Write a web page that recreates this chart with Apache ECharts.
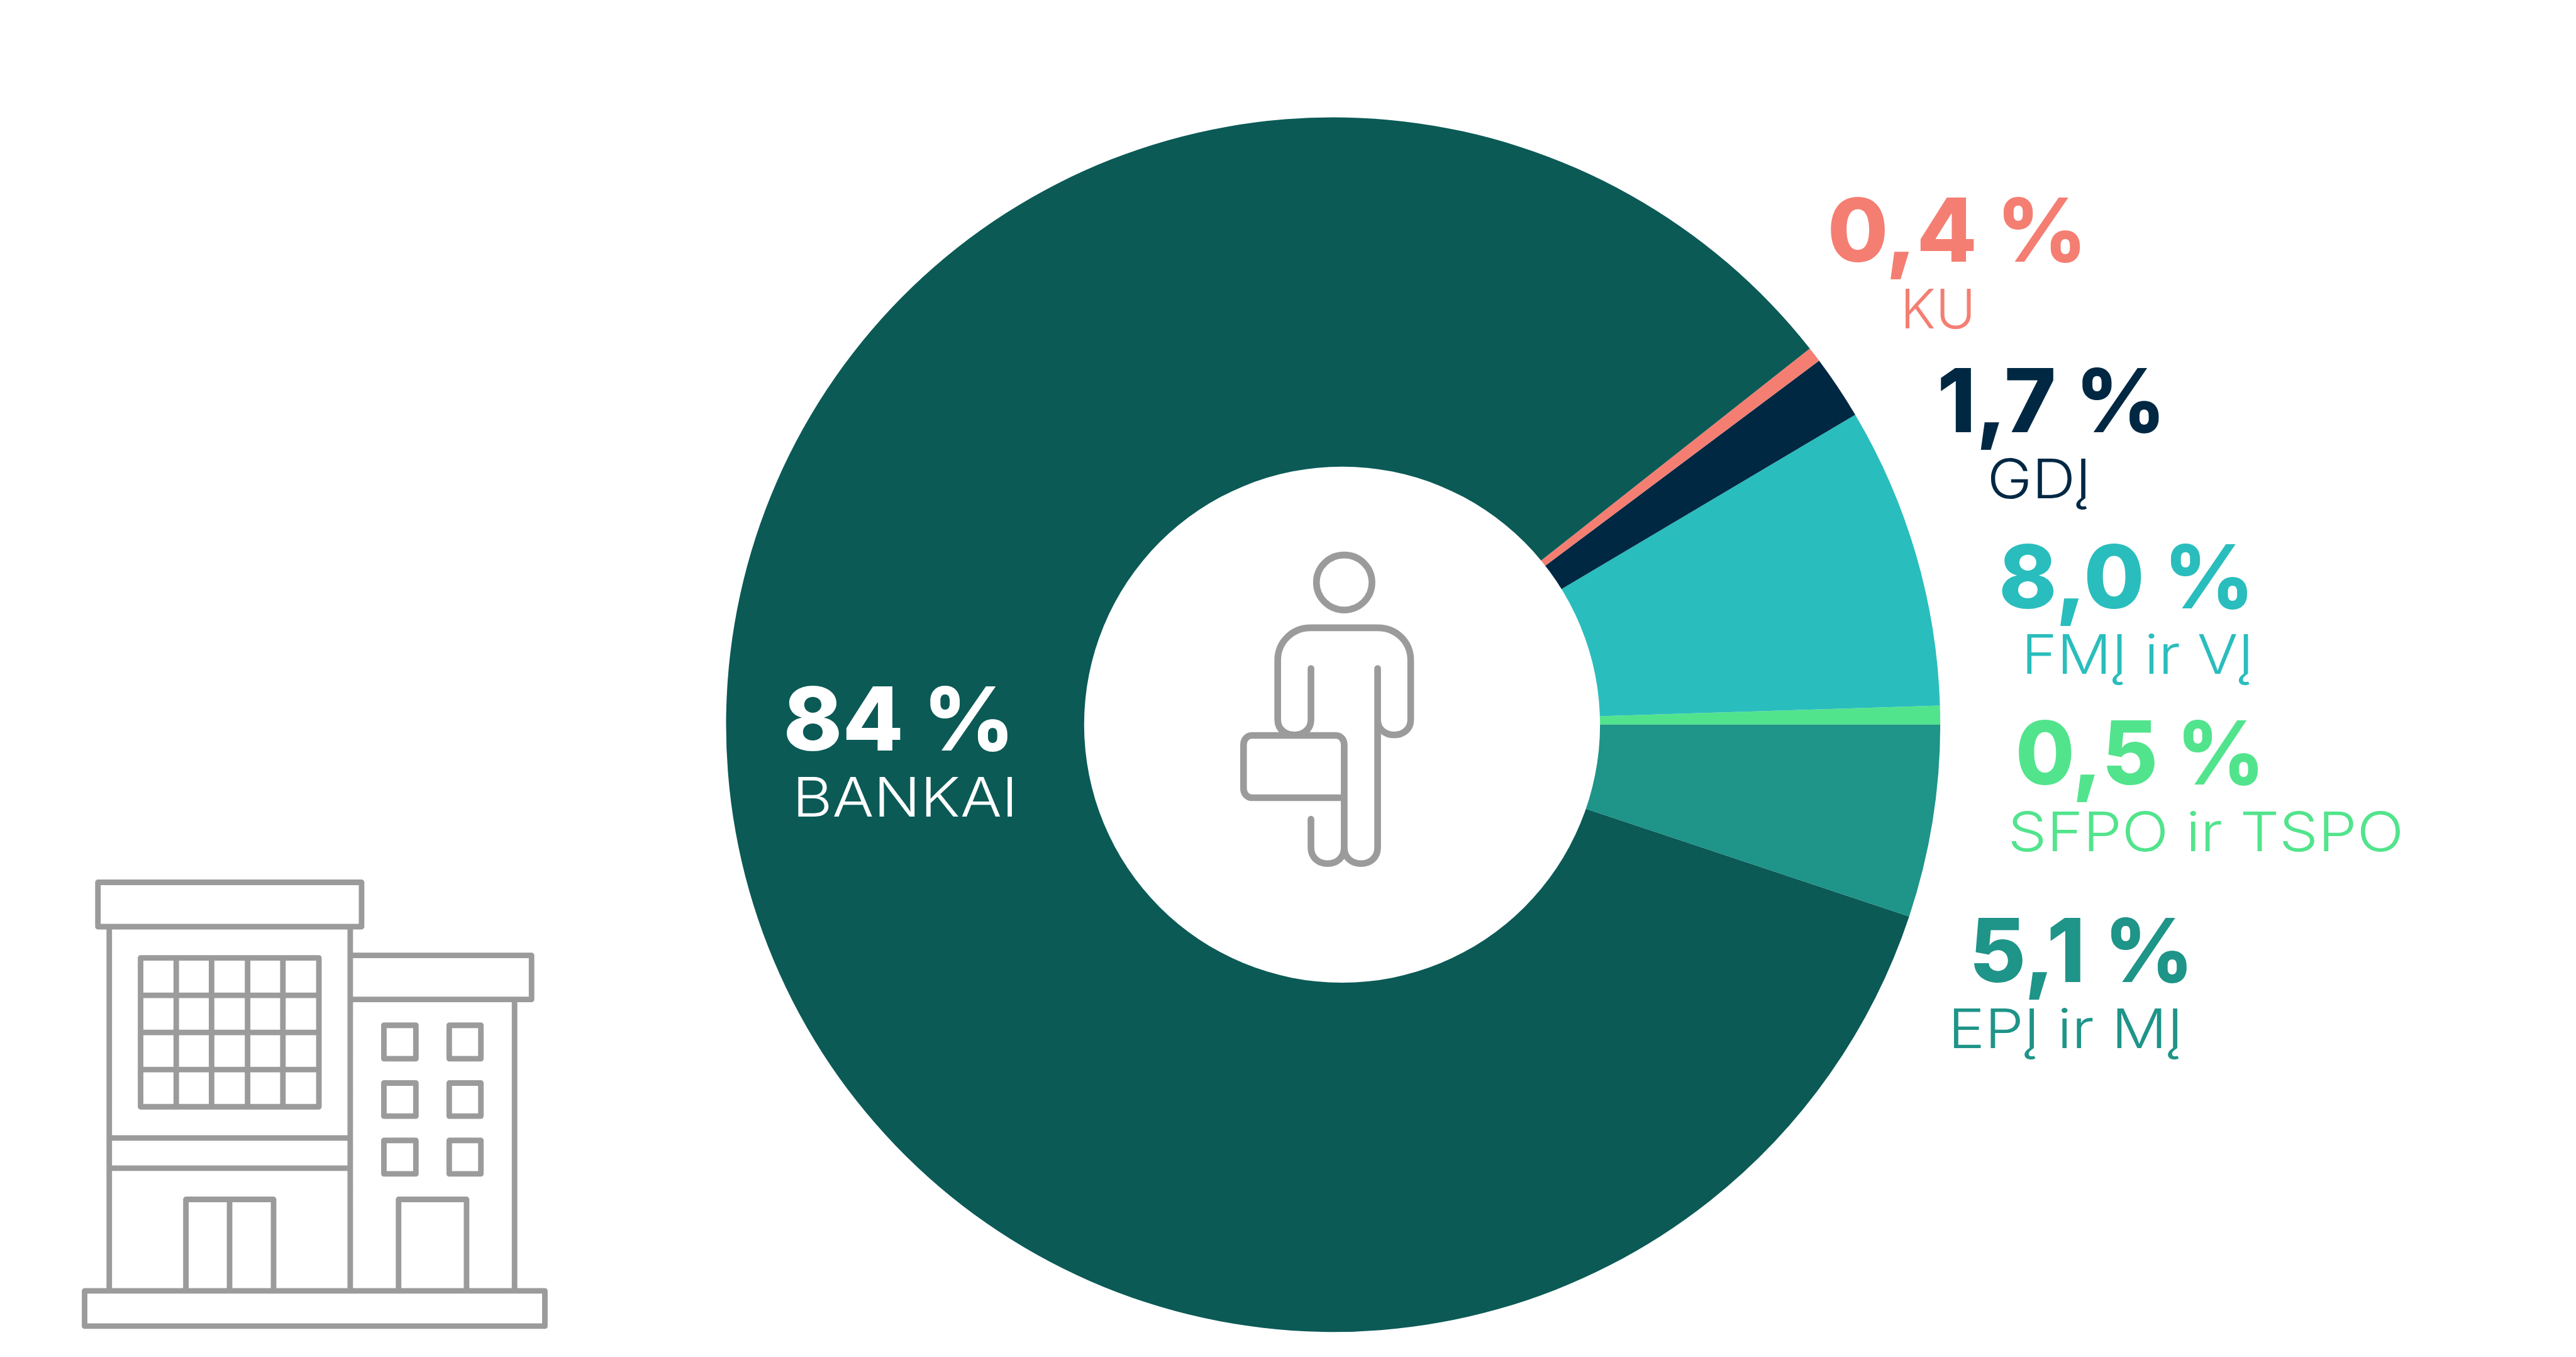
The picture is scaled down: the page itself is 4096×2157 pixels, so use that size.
<!DOCTYPE html>
<html>
<head>
<meta charset="utf-8">
<style>html,body{margin:0;padding:0;background:#fff}#c{width:4096px;height:2157px}</style>
<script src="https://cdn.jsdelivr.net/npm/echarts@6/dist/echarts.min.js"></script>
</head>
<body>
<div id="c"></div>
<script>
// Data, anticlockwise from 3 o'clock
const categories = ['SFPO ir TSPO', 'FMĮ ir VĮ', 'GDĮ', 'KU', 'BANKAI', 'EPĮ ir MĮ'];
const shares = [0.5, 8.0, 1.7, 0.4, 84, 5.1];
const valueLabels = ['0,5 %', '8,0 %', '1,7 %', '0,4 %', '84 %', '5,1 %'];
const colours = ['#52E48C', '#2ABDBD', '#002843', '#F47E72', '#0B5A56', '#1F9488'];
const nameColours = ['#52E48C', '#2ABDBD', '#002843', '#F47E72', '#FFFFFF', '#1F9488'];

// Layout in reference pixels
const S = 0.884;
const valueBox = [[3634,4065,1300,1413],[3604,4046,982,1096],[3492,3888,667,779],[3296,3745,359,473],[1417,1817,1238,1351],[3550,3938,1655,1767]];
const nameBox  = [[3625,4310,1459,1529],[3644,4046,1140,1210],[3578,3758,825,895],[3421,3551,519,589],[1433,1823,1397,1467],[3512,3919,1813,1883]];
const TEXT_SHIFT = 7;

const GREY = '#9B9B9B';
const measure = document.createElement('canvas').getContext('2d');
function fitted(text, box, font, fill, widen) {
  measure.font = font;
  const w = measure.measureText(text).width;
  return {
    type: 'text', z: 20, silent: true,
    x: (box[0] + box[1]) / 2 * S, y: ((box[2] + box[3]) / 2 + TEXT_SHIFT) * S,
    scaleX: widen * (box[1] - box[0]) * S / w,
    style: { text, font, fill, textAlign: 'center', textVerticalAlign: 'middle' }
  };
}
const texts = [];
categories.forEach((c, i) => {
  texts.push(fitted(valueLabels[i], valueBox[i], '800 ' + (158 * S) + 'px Inter', nameColours[i], 1.04));
  texts.push(fitted(c, nameBox[i], '300 ' + (98 * S) + 'px Inter', nameColours[i], 1.04));
});

// Line icons
function strokePath(name, d, w) {
  echarts.graphic.registerShape(name, echarts.graphic.extendPath(d, {}));
  return { type: name, z: 20, silent: true,
    style: { fill: null, stroke: GREY, lineWidth: w * S, lineCap: 'round', lineJoin: 'round' } };
}
// Building (zoom-crop coordinates mapped to output pixels)
const bx = x => ((100 + x / 1.668) * S).toFixed(2), by = y => ((1540 + y / 1.782) * S).toFixed(2);
const bRect = (a, t, b, u) => `M${bx(a)} ${by(t)}L${bx(b)} ${by(t)}L${bx(b)} ${by(u)}L${bx(a)} ${by(u)}Z`;
const bLine = (a, t, b, u) => `M${bx(a)} ${by(t)}L${bx(b)} ${by(u)}`;
let building = bRect(127,83,918,225) + bLine(161,225,161,1392) + bLine(884,225,884,1392)
  + bLine(884,317,1428,317) + bLine(1428,317,1428,458) + bLine(1428,458,884,458) + bLine(1377,458,1377,1392)
  + bRect(255,325,790,802) + bLine(161,902,884,902) + bLine(161,999,884,999)
  + bLine(391,1392,391,1099) + bLine(391,1099,654,1099) + bLine(654,1099,654,1392) + bLine(522,1099,522,1392)
  + bLine(1029,1392,1029,1099) + bLine(1029,1099,1233,1099) + bLine(1233,1099,1233,1392)
  + bRect(87,1392,1468,1505);
[362,468,576,682].forEach(x => building += bLine(x,325,x,802));
[445,564,683].forEach(y => building += bLine(255,y,790,y));
[[985,1081],[1181,1276]].forEach(c => [[541,648],[726,832],[910,1017]].forEach(r => building += bRect(c[0],r[0],c[1],r[1])));

// Person
const hx = x => ((2180 + x / 2.96) * S).toFixed(2), hy = y => ((960 + y / 2.53) * S).toFixed(2);
const P = (x, y) => hx(x) + ' ' + hy(y);
function uTurn(x0, x1, y, bot) {
  return `C${P(x0, bot)} ${P(x1, bot)} ${P(x1, y)}`;
}
const person =
  `M${P(527,612)}L${P(527,845)}` + uTurn(527, 350, 845, 938) +
  `L${P(350,575)}C${P(350,490)} ${P(430,427)} ${P(525,427)}L${P(882,427)}C${P(980,427)} ${P(1058,490)} ${P(1058,575)}` +
  `L${P(1058,845)}` + uTurn(1058, 882, 845, 938) + `L${P(882,612)}` +
  `M${P(882,845)}L${P(882,1428)}` + uTurn(882, 704, 1428, 1524) + `L${P(704,960)}` +
  `C${P(704,935)} ${P(685,917)} ${P(660,917)}L${P(212,917)}C${P(187,917)} ${P(168,935)} ${P(168,960)}` +
  `L${P(168,1157)}C${P(168,1182)} ${P(187,1200)} ${P(212,1200)}L${P(704,1200)}` +
  `M${P(704,1428)}` + uTurn(704, 527, 1428, 1524) + `L${P(527,1298)}`;

const chart = echarts.init(document.getElementById('c'), null, { renderer: 'canvas' });
chart.setOption({
  backgroundColor: '#FFFFFF',
  animation: false,
  series: [{
    type: 'pie',
    center: [2398 * S, 1303 * S],
    radius: [0, 1092 * S],
    startAngle: 0,
    clockwise: false,
    silent: true,
    label: { show: false },
    labelLine: { show: false },
    data: categories.map((name, i) => ({ name, value: shares[i], itemStyle: { color: colours[i] } }))
  }],
  graphic: { elements: [
    { type: 'circle', z: 10, silent: true, shape: { cx: 2414 * S, cy: 1303 * S, r: 464 * S }, style: { fill: '#FFFFFF' } },
    { type: 'ellipse', z: 20, silent: true, shape: { cx: +hx(704), cy: +hy(221), rx: 50 * S, ry: 49.5 * S },
      style: { fill: null, stroke: GREY, lineWidth: 12 * S } },
    strokePath('personIcon', person, 12),
    strokePath('buildingIcon', building, 10)
  ].concat(texts) }
});
</script>
</body>
</html>
